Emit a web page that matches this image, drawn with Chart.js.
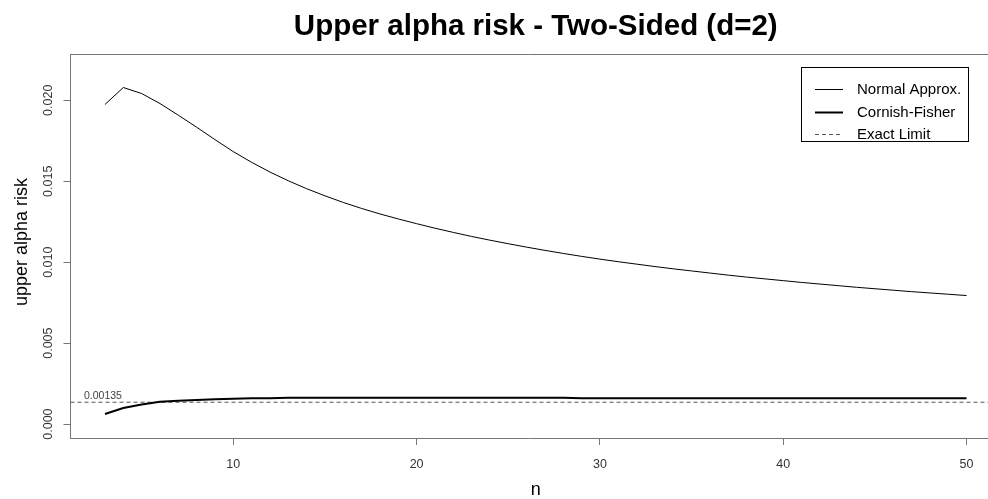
<!DOCTYPE html>
<html>
<head>
<meta charset="utf-8">
<script src="https://cdn.jsdelivr.net/npm/chart.js@4.4.1/dist/chart.umd.min.js"></script>
<style>
  html, body { margin: 0; padding: 0; background: #fff; }
  canvas { display: block; }
</style>
</head>
<body>
<canvas id="chart" width="988" height="499"></canvas>
<script>
// sample sizes on the x axis
var nValues = [3, 4, 5, 6, 7, 8, 9, 10, 11, 12, 13, 14, 15, 16, 17, 18, 19, 20,
  21, 22, 23, 24, 25, 26, 27, 28, 29, 30, 31, 32, 33, 34, 35, 36, 37, 38, 39, 40,
  41, 42, 43, 44, 45, 46, 47, 48, 49, 50];

// upper alpha risk, normal approximation
var normalApprox = [0.01974, 0.02079, 0.02042, 0.01980, 0.01908, 0.01834, 0.01757, 0.01683,
  0.01617, 0.01557, 0.01503, 0.01454, 0.01410, 0.01369, 0.01332, 0.01298, 0.01267, 0.01238,
  0.01210, 0.01184, 0.01159, 0.01136, 0.01114, 0.01093, 0.01073, 0.01054, 0.01036, 0.01019,
  0.01003, 0.00988, 0.00973, 0.00959, 0.00946, 0.00933, 0.00920, 0.00908, 0.00897, 0.00886,
  0.00875, 0.00865, 0.00855, 0.00845, 0.00836, 0.00827, 0.00818, 0.00810, 0.00802, 0.00794];

// upper alpha risk, Cornish-Fisher expansion
var cornishFisher = [0.00062, 0.00099, 0.00121, 0.00138, 0.00144, 0.00149, 0.00153, 0.00157,
  0.00159, 0.00160, 0.00162, 0.00162, 0.00162, 0.00162, 0.00162, 0.00162, 0.00162, 0.00162,
  0.00162, 0.00162, 0.00162, 0.00162, 0.00162, 0.00162, 0.00162, 0.00162, 0.00159, 0.00159,
  0.00159, 0.00159, 0.00159, 0.00159, 0.00159, 0.00159, 0.00159, 0.00159, 0.00159, 0.00159,
  0.00159, 0.00159, 0.00159, 0.00159, 0.00159, 0.00159, 0.00159, 0.00159, 0.00159, 0.00159];

// exact limit
var exactLimit = 0.00135;
var exactLabel = '0.00135';

// axes
var xRange = [1.12, 51.17];
var yRange = [-0.00086, 0.02286];
var xTicks = [10, 20, 30, 40, 50];
var yTicks = [0, 0.005, 0.010, 0.015, 0.020];
var yTickLabels = ['0.000', '0.005', '0.010', '0.015', '0.020'];

var titleText = 'Upper alpha risk - Two-Sided (d=2)';
var xTitle = 'n';
var yTitle = 'upper alpha risk';
var FONT = '"Liberation Sans", Arial, sans-serif';

function points(ys) {
  return nValues.map(function (n, i) { return { x: n, y: ys[i] }; });
}

// draws the title, box, rotated y labels, axis titles and the legend
var decorations = {
  id: 'decorations',
  afterDraw: function (chart) {
    var ctx = chart.ctx;
    var area = chart.chartArea;
    var xs = chart.scales.x;
    var ys = chart.scales.y;
    ctx.save();

    // top edge of the plot box
    ctx.strokeStyle = '#777';
    ctx.lineWidth = 1;
    ctx.beginPath();
    ctx.moveTo(area.left, Math.round(area.top) + 0.5);
    ctx.lineTo(area.right, Math.round(area.top) + 0.5);
    ctx.stroke();

    // y tick labels, vertical like R
    ctx.fillStyle = '#333';
    ctx.font = '12.5px ' + FONT;
    ctx.textAlign = 'center';
    ctx.textBaseline = 'middle';
    yTicks.forEach(function (v, i) {
      ctx.save();
      ctx.translate(49, ys.getPixelForValue(v));
      ctx.rotate(-Math.PI / 2);
      ctx.fillText(yTickLabels[i], 0, 0);
      ctx.restore();
    });

    // axis titles
    ctx.fillStyle = '#000';
    ctx.font = '18px ' + FONT;
    ctx.save();
    ctx.translate(22, 242);
    ctx.rotate(-Math.PI / 2);
    ctx.fillText(yTitle, 0, 0);
    ctx.restore();
    var centerX = xs.getPixelForValue((nValues[0] + nValues[nValues.length - 1]) / 2);
    ctx.fillText(xTitle, centerX, 490);

    // main title
    ctx.font = 'bold 29.5px ' + FONT;
    ctx.textBaseline = 'alphabetic';
    ctx.fillText(titleText, centerX, 35);

    // exact limit label
    ctx.fillStyle = '#444';
    ctx.font = '10.5px ' + FONT;
    ctx.textAlign = 'left';
    ctx.fillText(exactLabel, 84, ys.getPixelForValue(exactLimit) - 3);

    // legend box
    ctx.strokeStyle = '#000';
    ctx.strokeRect(801.5, 67.5, 167, 74);
    ctx.font = '15px ' + FONT;
    ctx.textBaseline = 'middle';
    chart.data.datasets.forEach(function (ds, i) {
      var ly = Math.round(89 + 22.5 * i) + 0.5;
      ctx.strokeStyle = ds.borderColor;
      ctx.lineWidth = ds.borderWidth;
      ctx.setLineDash(ds.borderDash || []);
      ctx.beginPath();
      ctx.moveTo(815, ly);
      ctx.lineTo(843, ly);
      ctx.stroke();
      ctx.setLineDash([]);
      ctx.fillStyle = '#000';
      ctx.fillText(ds.label, 857, ly);
    });
    ctx.restore();
  }
};

new Chart(document.getElementById('chart'), {
  type: 'line',
  data: {
    datasets: [
      {
        label: 'Normal Approx.',
        data: points(normalApprox),
        borderColor: '#000',
        borderWidth: 1,
        pointRadius: 0,
        tension: 0
      },
      {
        label: 'Cornish-Fisher',
        data: points(cornishFisher),
        borderColor: '#000',
        borderWidth: 2,
        pointRadius: 0,
        tension: 0
      },
      {
        label: 'Exact Limit',
        data: [{ x: xRange[0], y: exactLimit }, { x: xRange[1], y: exactLimit }],
        borderColor: '#555',
        borderWidth: 1,
        borderDash: [4, 3],
        pointRadius: 0,
        tension: 0
      }
    ]
  },
  options: {
    responsive: false,
    animation: false,
    devicePixelRatio: 1,
    layout: { padding: { top: 54, left: 0, right: 0, bottom: 0 } },
    plugins: {
      legend: { display: false },
      title: { display: false },
      tooltip: { enabled: false }
    },
    scales: {
      x: {
        type: 'linear',
        min: xRange[0],
        max: xRange[1],
        afterBuildTicks: function (scale) {
          scale.ticks = xTicks.map(function (v) { return { value: v }; });
        },
        afterFit: function (scale) { scale.height = 61; },
        grid: { drawOnChartArea: false, drawTicks: true, tickLength: 7, color: '#777' },
        border: { display: true, color: '#777' },
        ticks: {
          color: '#333',
          padding: 12,
          maxRotation: 0,
          font: { family: FONT, size: 12.5 },
          callback: function (v) { return String(v); }
        }
      },
      y: {
        type: 'linear',
        min: yRange[0],
        max: yRange[1],
        afterBuildTicks: function (scale) {
          scale.ticks = yTicks.map(function (v) { return { value: v }; });
        },
        afterFit: function (scale) { scale.width = 70.5; },
        grid: { drawOnChartArea: false, drawTicks: true, tickLength: 7, color: '#777' },
        border: { display: true, color: '#777' },
        ticks: { display: false }
      }
    }
  },
  plugins: [decorations]
});
</script>
</body>
</html>
